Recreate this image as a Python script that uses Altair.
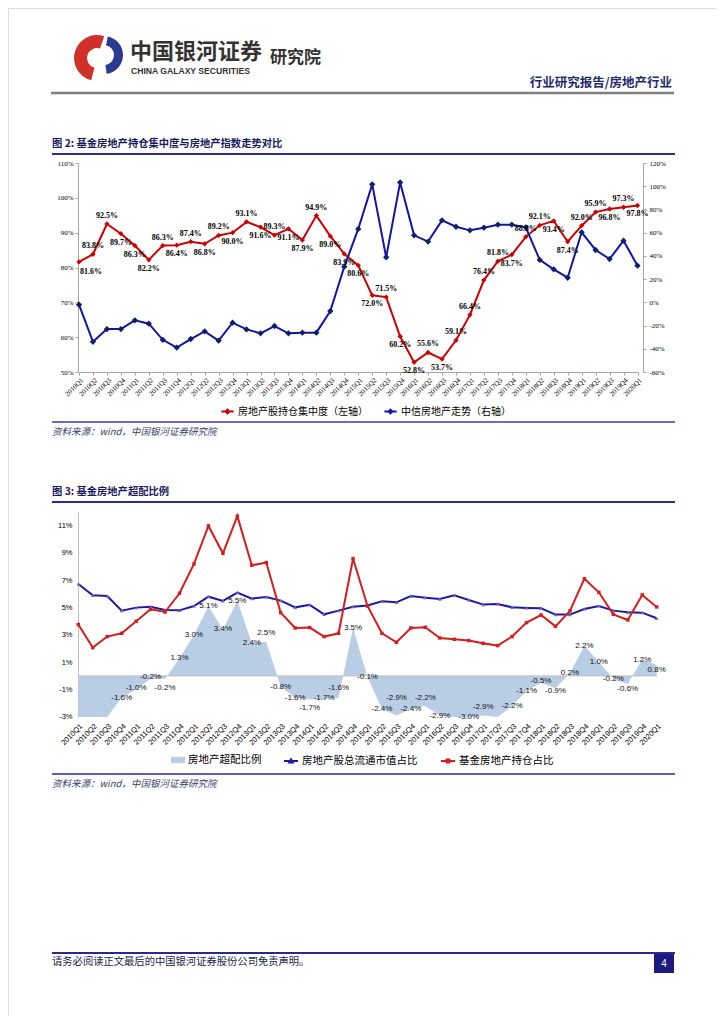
import altair as alt
import pandas as pd

# ---------------- data ----------------
quarters = [f"{y}Q{q}" for y in range(2010, 2021) for q in range(1, 5)][:41]

# Figure 2: fund holding concentration (left axis, %) and CITIC real-estate index trend (right axis, %)
concentration = [81.6, 83.8, 92.5, 89.7, 86.3, 82.2, 86.3, 86.4, 87.4, 86.8, 89.2, 90.0,
                 93.1, 91.6, 89.3, 91.1, 87.9, 94.9, 89.0, 83.9, 80.6, 72.0, 71.5, 60.2,
                 52.8, 55.6, 53.7, 59.1, 66.4, 76.4, 81.8, 83.7, 88.8, 92.1, 93.4, 87.4,
                 92.0, 95.9, 96.8, 97.3, 97.8]
index_trend = [-2.0, -34.0, -23.0, -23.0, -15.5, -18.4, -32.3, -39.0, -31.6, -25.0, -33.0, -17.5,
               -23.3, -26.7, -20.4, -26.7, -26.1, -26.1, -7.5, 30.7, 63.2, 101.6, 38.8, 103.3,
               57.7, 52.3, 70.6, 65.1, 62.0, 64.3, 66.9, 66.9, 64.6, 36.5, 28.4, 21.2,
               60.3, 45.1, 37.3, 53.1, 31.6]

# Figure 3: overweight ratio (area), sector market-cap share, fund holding share (%)
overweight = [-3.0, -3.0, -3.0, -1.6, -1.0, -0.2, -0.2, 1.3, 3.0, 5.1, 3.4, 5.5,
              2.4, 2.5, -0.8, -1.6, -1.7, -1.7, -1.6, 3.5, -0.1, -2.4, -2.9, -2.4,
              -2.2, -2.9, -3.0, -3.0, -2.9, -3.0, -2.2, -1.1, -0.5, -0.9, 0.2, 2.2,
              1.0, -0.2, -0.6, 1.2, 0.8]
overweight_labels = ["", "", "", "-1.6%", "-1.0%", "-0.2%", "-0.2%", "1.3%", "3.0%", "5.1%", "3.4%", "5.5%",
                     "2.4%", "2.5%", "-0.8%", "-1.6%", "-1.7%", "-1.7%", "-1.6%", "3.5%", "-0.1%", "-2.4%", "-2.9%", "-2.4%",
                     "-2.2%", "-2.9%", "", "-3.0%", "-2.9%", "", "-2.2%", "-1.1%", "-0.5%", "-0.9%", "0.2%", "2.2%",
                     "1.0%", "-0.2%", "-0.6%", "1.2%", "0.8%"]
mcap_share = [6.73, 5.90, 5.85, 4.78, 5.00, 5.07, 4.83, 4.80, 5.12, 5.80, 5.49, 6.10,
              5.66, 5.78, 5.51, 5.02, 5.20, 4.51, 4.78, 5.07, 5.15, 5.46, 5.39, 5.85,
              5.73, 5.63, 5.90, 5.56, 5.22, 5.27, 5.02, 4.98, 4.95, 4.49, 4.49, 4.90,
              5.12, 4.78, 4.66, 4.63, 4.22]
fund_share = [3.76, 2.07, 2.88, 3.12, 4.00, 4.88, 4.68, 6.05, 8.20, 10.98, 8.98, 11.70,
              8.10, 8.30, 4.63, 3.51, 3.54, 2.88, 3.12, 8.59, 5.12, 3.12, 2.46, 3.51,
              3.56, 2.78, 2.68, 2.59, 2.39, 2.22, 2.88, 3.90, 4.46, 3.63, 4.76, 7.12,
              6.12, 4.51, 4.10, 5.93, 5.05]

N1R = "房地产股持仓集中度（左轴）"
N1B = "中信房地产走势（右轴）"
N2A = "房地产超配比例"
N2B = "房地产股总流通市值占比"
N2R = "基金房地产持仓占比"

CJK = "Noto Sans CJK SC"
SERIF = "Liberation Serif"
SANS = "Liberation Sans"

RED1 = "#CC0000"
BLUE1 = "#1414A8"
NAVY1 = "#0D2266"
AREA2 = "#B9CDE5"
BLUE2 = "#1A1AA6"
PURPLE2 = "#8064B4"
RED2 = "#D41E1E"
AXGRAY = "#A6A6A6"

# label placement derived from the data: alternate sides when neighbours are close
sides1 = []
for i, v in enumerate(concentration):
    if i == 0:
        s = "right"
    else:
        d = v - concentration[i - 1]
        if abs(d) < 3:
            s = "below" if sides1[-1] == "above" else "above"
        else:
            s = "above" if d > 0 else "below"
    sides1.append(s)

# figure 3 labels sit on their value; a label is nudged away from a close left neighbour
GAP = 0.75
labpos = []
for i, lab in enumerate(overweight_labels):
    p = overweight[i]
    if lab and i > 0 and overweight_labels[i - 1] and abs(p - labpos[-1]) < GAP:
        if overweight[i] > overweight[i - 1]:
            p = labpos[-1] + GAP
        elif labpos[-1] - GAP >= -2.9:
            p = labpos[-1] - GAP
        else:
            p = labpos[-1] + GAP
    labpos.append(p)

df1 = pd.DataFrame({"q": quarters, "conc": concentration, "trend": index_trend, "side": sides1})
df1["lab"] = [f"{v:.1f}%" for v in concentration]
df1["sr"] = N1R
df1["sb"] = N1B

df2 = pd.DataFrame({"q": quarters, "over": overweight, "share": mcap_share,
                    "fund": fund_share, "lab": overweight_labels, "labpos": labpos})
df2["sa"] = N2A
df2["sb"] = N2B
df2["sr"] = N2R

dummy = pd.DataFrame({"d": [0]})

# ---------------- scales & axes ----------------
X1 = alt.Scale(type="point", domain=quarters, range=[71, 629.5], padding=0)
Y1L = alt.Scale(domain=[50, 110], range=[364, 155], nice=False, zero=False)
Y1R = alt.Scale(domain=[-60, 120], range=[364, 155], nice=False, zero=False)
X2 = alt.Scale(type="point", domain=quarters, range=[70.3, 648.7], padding=0)
Y2 = alt.Scale(domain=[-3, 12], range=[708.9, 504], nice=False, zero=False)

ax1x = alt.Axis(orient="bottom", offset=-644, labelAngle=-45, labelFont=SERIF, labelFontSize=7,
                labelColor="#000", tickColor=AXGRAY, tickSize=3, domainColor=AXGRAY,
                labelPadding=1, labelOverlap=False, title=None, grid=False)
ax1l = alt.Axis(orient="left", offset=-70, values=list(range(50, 111, 10)),
                labelExpr="datum.value + '%'", labelFont=SERIF, labelFontSize=7, labelColor="#000",
                tickColor=AXGRAY, tickSize=3, domainColor=AXGRAY, labelPadding=2, title=None, grid=False)
ax1r = alt.Axis(orient="right", offset=-73, values=list(range(-60, 121, 20)),
                labelExpr="datum.value + '%'", labelFont=SERIF, labelFontSize=7, labelColor="#000",
                tickColor=AXGRAY, tickSize=3, domainColor=AXGRAY, labelPadding=3, title=None, grid=False)
ax2x = alt.Axis(orient="bottom", offset=-299, labelAngle=-45, labelFont=SANS, labelFontSize=7.5,
                labelColor="#000", domain=False, ticks=False, labelPadding=5, labelOverlap=False,
                title=None, grid=False)
ax2y = alt.Axis(orient="left", offset=-70, values=[-3, -1, 1, 3, 5, 7, 9, 11],
                labelExpr="datum.value + '%'", labelFont=SANS, labelFontSize=7.5, labelColor="#000",
                ticks=False, domainColor="#BFBFBF", labelPadding=6, title=None, grid=False)

LINE_DIAMOND = "M-1,0L1,0M-0.32,0L0,-0.32L0.32,0L0,0.32Z"
LINE_TRI = "M-1,0L1,0M-0.25,0.2L0,-0.25L0.25,0.2Z"
LINE_SQ = "M-1,0L1,0M-0.2,-0.2L0.2,-0.2L0.2,0.2L-0.2,0.2Z"
RECT_SYM = "M-1,-0.45L1,-0.45L1,0.45L-1,0.45Z"


def leg(x, y, sym, size, fillc, strokec, fs, sw=2):
    return alt.Legend(orient="none", legendX=x, legendY=y, title=None, symbolType=sym,
                      symbolSize=size, symbolStrokeWidth=sw, symbolFillColor=fillc,
                      symbolStrokeColor=strokec, labelFont=CJK, labelFontSize=fs,
                      labelColor="#000", labelOffset=3, padding=0)


# ---------------- figure 2 ----------------
c1 = alt.Chart(df1)
X1E = alt.X("q:N", scale=X1, axis=None)
Y1E = alt.Y("conc:Q", scale=Y1L, axis=None)
red_line = c1.mark_line(strokeWidth=2).encode(
    x=alt.X("q:N", scale=X1, axis=ax1x),
    y=alt.Y("conc:Q", scale=Y1L, axis=ax1l),
    color=alt.Color("sr:N", scale=alt.Scale(domain=[N1R], range=[RED1]),
                    legend=leg(212, 396, LINE_DIAMOND, 150, RED1, RED1, 10)))
red_pts = c1.mark_point(shape="diamond", filled=True, size=28, color=RED1, opacity=1).encode(
    x=X1E, y=Y1E)
lab_style = dict(font=SERIF, fontWeight="bold", fontSize=8, color="#000")
red_lab_a = c1.mark_text(dy=-8, **lab_style).encode(
    x=X1E, y=Y1E, text="lab:N").transform_filter("datum.side == 'above'")
red_lab_b = c1.mark_text(dy=9, **lab_style).encode(
    x=X1E, y=Y1E, text="lab:N").transform_filter("datum.side == 'below'")
red_lab_r = c1.mark_text(dy=10, dx=1, align="left", **lab_style).encode(
    x=X1E, y=Y1E, text="lab:N").transform_filter("datum.side == 'right'")
blue_line = c1.mark_line(strokeWidth=2).encode(
    x=X1E,
    y=alt.Y("trend:Q", scale=Y1R, axis=ax1r),
    color=alt.Color("sb:N", scale=alt.Scale(domain=[N1B], range=[BLUE1]),
                    legend=leg(375, 396, LINE_DIAMOND, 150, NAVY1, BLUE1, 10)))
blue_pts = c1.mark_point(shape="diamond", filled=True, size=40, color=NAVY1, opacity=1).encode(
    x=X1E, y=alt.Y("trend:Q", scale=Y1R, axis=None))

# ---------------- figure 3 ----------------
c2 = alt.Chart(df2)
X2E = alt.X("q:N", scale=X2, axis=None)
area = c2.mark_area(opacity=1, interpolate="linear").encode(
    x=alt.X("q:N", scale=X2, axis=ax2x),
    y=alt.Y("over:Q", scale=Y2, axis=ax2y),
    y2=alt.datum(0),
    fill=alt.Fill("sa:N", scale=alt.Scale(domain=[N2A], range=[AREA2]),
                  legend=leg(163, 745, RECT_SYM, 196, AREA2, AREA2, 10.5, sw=0)))
zero_rule = alt.Chart(dummy).mark_rule(color="#BFBFBF", strokeWidth=1).encode(
    x=alt.value(70), x2=alt.value(649), y=alt.YDatum(0, scale=Y2, axis=None))
share_line = c2.mark_line(strokeWidth=2).encode(
    x=X2E, y=alt.Y("share:Q", scale=Y2, axis=None),
    color=alt.Color("sb:N", scale=alt.Scale(domain=[N2B], range=[BLUE2]),
                    legend=leg(275, 745, LINE_TRI, 196, PURPLE2, BLUE2, 10.5)))
share_pts = c2.mark_point(shape="triangle-up", filled=True, size=14, color=PURPLE2, opacity=1).encode(
    x=X2E, y=alt.Y("share:Q", scale=Y2, axis=None))
fund_line = c2.mark_line(strokeWidth=2).encode(
    x=X2E, y=alt.Y("fund:Q", scale=Y2, axis=None),
    color=alt.Color("sr:N", scale=alt.Scale(domain=[N2R], range=[RED2]),
                    legend=leg(432, 745, LINE_SQ, 196, RED2, RED2, 10.5)))
fund_pts = c2.mark_point(shape="square", filled=True, size=12, color=RED2, opacity=1).encode(
    x=X2E, y=alt.Y("fund:Q", scale=Y2, axis=None))
over_lab = c2.mark_text(font=SANS, fontSize=8, color="#111").encode(
    x=X2E, y=alt.Y("labpos:Q", scale=Y2, axis=None),
    text="lab:N").transform_filter("datum.lab != ''")


# ---------------- page decorations ----------------
def txt(s, x, y, size, color="#000", weight="normal", align="left", font=CJK, style="normal"):
    return alt.Chart(dummy).mark_text(text=s, align=align, baseline="middle", fontSize=size,
                                      font=font, fontWeight=weight, color=color,
                                      fontStyle=style).encode(x=alt.value(x), y=alt.value(y))


def hline(x1, x2, y, color, w):
    return alt.Chart(dummy).mark_rule(color=color, strokeWidth=w).encode(
        x=alt.value(x1), x2=alt.value(x2), y=alt.value(y))


logo_red = alt.Chart(dummy).mark_arc(radius=23, radius2=10, theta=3.4, theta2=6.6,
                                     color="#D0302A").encode(x=alt.value(89), y=alt.value(50))
logo_blue = alt.Chart(dummy).mark_arc(radius=19, radius2=10, theta=0.2, theta2=3.0,
                                      color="#2B3990").encode(x=alt.value(96), y=alt.value(47))

deco = [
    logo_red, logo_blue,
    txt("中国银河证券", 122, 44, 22, "#333333", "bold"),
    txt("CHINA GALAXY SECURITIES", 123, 63, 8.6, "#333333", "bold", font=SANS),
    txt("研究院", 262, 50, 17, "#333333", "bold"),
    txt("行业研究报告/房地产行业", 664, 75, 12.5, "#1F2A6E", "bold", align="right"),
    hline(43, 666, 85, "#7F7F7F", 2.5),
    txt("图 2: 基金房地产持仓集中度与房地产指数走势对比", 44, 136, 10.3, "#1A1A5E", "bold"),
    hline(44, 667, 146, "#2B2B9B", 2),
    hline(44, 667, 414, "#3A3AB0", 1.5),
    txt("资料来源：wind，中国银河证券研究院", 44, 424, 9.5, "#3B3B6B", style="italic"),
    txt("图 3: 基金房地产超配比例", 44, 484, 10.3, "#1A1A5E", "bold"),
    hline(44, 667, 494, "#2B2B9B", 2),
    hline(44, 667, 766, "#5B5BC0", 2),
    txt("资料来源：wind，中国银河证券研究院", 44, 776, 9.5, "#3B3B6B", style="italic"),
    hline(44, 667, 945, "#2A2A8A", 2),
    txt("请务必阅读正文最后的中国银河证券股份公司免责声明。", 44, 954, 10.3, "#1A1A4E"),
    alt.Chart(dummy).mark_rect(color="#1A1A80").encode(
        x=alt.value(646), x2=alt.value(666), y=alt.value(946), y2=alt.value(965)),
    txt("4", 656, 955.5, 10, "#FFFFFF", align="center", font=SANS),
]

layers = [red_line, red_pts, blue_line, blue_pts, red_lab_a, red_lab_b, red_lab_r,
          area, zero_rule, share_line, share_pts, fund_line, fund_pts, over_lab] + deco

chart = alt.layer(*layers).resolve_scale(
    x="independent", y="independent", color="independent", fill="independent"
).properties(
    width=708, height=1008, autosize=alt.AutoSizeParams(type="none"), padding=0
).configure_view(stroke=None).configure(background="white")

chart.save("out.html", embed_options={"renderer": "svg", "actions": False})
